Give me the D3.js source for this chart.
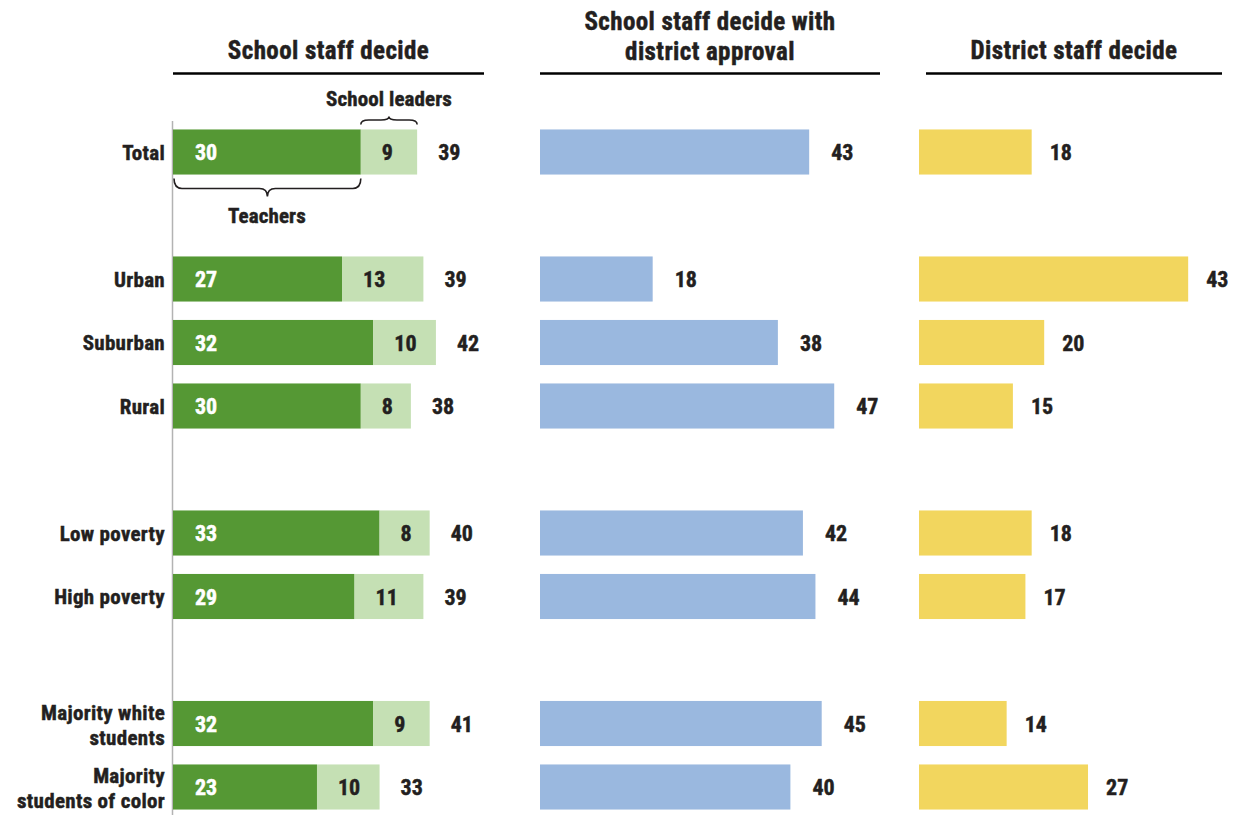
<!DOCTYPE html>
<html>
<head>
<meta charset="utf-8">
<script src="https://cdn.jsdelivr.net/npm/d3@7"></script>
<style>
  body { margin: 0; background: #fff; }
  svg text { font-family: "Liberation Sans Narrow", "Roboto Condensed", "DejaVu Sans Condensed", "Arial Narrow", sans-serif; font-weight: bold; fill: #231f20; stroke: #231f20; stroke-width: 0.45px; }
</style>
</head>
<body>
<div id="chart"></div>
<script>
// data
var categories = ["Total", "Urban", "Suburban", "Rural", "Low poverty", "High poverty", "Majority white students", "Majority students of color"];
var teachers = [30, 27, 32, 30, 33, 29, 32, 23];
var leaders = [9, 13, 10, 8, 8, 11, 9, 10];
var schoolTotals = [39, 39, 42, 38, 40, 39, 41, 33];
var withApproval = [43, 18, 38, 47, 42, 44, 45, 40];
var districtDecide = [18, 43, 20, 15, 18, 17, 14, 27];
var panelTitles = [["School staff decide"], ["School staff decide with", "district approval"], ["District staff decide"]];

var config = {
    width: 1234, height: 815,
    panelX: [173, 540, 919],
    titleLine: [[173, 484], [540, 880], [926, 1222]],
    dark: "#559834", light: "#c5e0b4", blue: "#9ab8df", yellow: "#f2d65e",
    pad: 21
};

// row order with blank spacer rows between groups
var rowKeys = ["Total", "_a", "Urban", "Suburban", "Rural", "_b", "Low poverty", "High poverty", "_c",
               "Majority white students", "Majority students of color"];
var labelLines = {
    "Majority white students": ["Majority white", "students"],
    "Majority students of color": ["Majority", "students of color"]
};

var y = d3.scaleBand().domain(rowKeys).range([120.25, 818.75]).paddingInner(0.29).paddingOuter(0.145);
var x = d3.scaleLinear().domain([0, 50]).range([0, 313]);

var rows = categories.map(function(c, i) {
    return {cat: c, t: teachers[i], l: leaders[i], tot: schoolTotals[i], a: withApproval[i], d: districtDecide[i]};
});

var svg = d3.select("#chart").append("svg")
    .attr("width", config.width)
    .attr("height", config.height);

// panel titles + rules
panelTitles.forEach(function(lines, p) {
    var ext = config.titleLine[p];
    var cx = (ext[0] + ext[1]) / 2;
    var t = svg.append("text")
        .attr("x", cx)
        .attr("text-anchor", "middle")
        .style("font-size", "25px")
        .style("letter-spacing", "0.4px");
    lines.forEach(function(s, i) {
        t.append("tspan").attr("x", cx)
            .attr("y", lines.length == 1 ? 59 : 30 + i * 30)
            .text(s);
    });
    svg.append("line")
        .attr("x1", ext[0]).attr("x2", ext[1])
        .attr("y1", 73.5).attr("y2", 73.5)
        .attr("stroke", "#000").attr("stroke-width", 2.5);
});

// axis line on first panel
svg.append("line")
    .attr("x1", config.panelX[0] - 0.5).attr("x2", config.panelX[0] - 0.5)
    .attr("y1", 121).attr("y2", 815)
    .attr("stroke", "#b3b3b3").attr("stroke-width", 1.5);

// category labels
var lab = svg.selectAll(".cat").data(rows).enter().append("text")
    .attr("class", "cat")
    .attr("text-anchor", "end")
    .style("font-size", "21px")
    .style("letter-spacing", "0.3px");
lab.each(function(d) {
    var cy = y(d.cat) + y.bandwidth() / 2;
    var lines = labelLines[d.cat] || [d.cat];
    var el = d3.select(this);
    lines.forEach(function(s, i) {
        el.append("tspan").attr("x", 165)
            .attr("y", lines.length == 1 ? cy + 7.5 : cy - 4 + i * 25)
            .text(s);
    });
});

function valueText(cls, xf, txt, fill) {
    svg.selectAll("." + cls).data(rows).enter().append("text")
        .attr("class", cls)
        .attr("x", xf)
        .attr("y", function(d) { return y(d.cat) + y.bandwidth() / 2 + 8; })
        .style("font-size", "22px")
        .style("fill", fill || "#231f20")
        .style("stroke", fill || "#231f20")
        .text(txt);
}

// panel 1: stacked teachers + leaders
var x0 = config.panelX[0];
svg.selectAll(".teach").data(rows).enter().append("rect")
    .attr("class", "teach")
    .attr("x", x0)
    .attr("y", function(d) { return y(d.cat); })
    .attr("width", function(d) { return x(d.t); })
    .attr("height", y.bandwidth())
    .attr("fill", config.dark);
svg.selectAll(".lead").data(rows).enter().append("rect")
    .attr("class", "lead")
    .attr("x", function(d) { return x0 + x(d.t); })
    .attr("y", function(d) { return y(d.cat); })
    .attr("width", function(d) { return x(d.l); })
    .attr("height", y.bandwidth())
    .attr("fill", config.light);
valueText("tv", function(d) { return x0 + config.pad + 1; }, function(d) { return d.t; }, "#fff");
valueText("lv", function(d) { return x0 + x(d.t) + config.pad; }, function(d) { return d.l; });
valueText("sv", function(d) { return x0 + x(d.t + d.l) + config.pad; }, function(d) { return d.tot; });

// panel 2 and 3: single bars
[["a", config.blue, 1, 22], ["d", config.yellow, 2, 18]].forEach(function(s) {
    var key = s[0], px = config.panelX[s[2]], off = s[3];
    svg.selectAll(".bar-" + key).data(rows).enter().append("rect")
        .attr("class", "bar-" + key)
        .attr("x", px)
        .attr("y", function(d) { return y(d.cat); })
        .attr("width", function(d) { return x(d[key]); })
        .attr("height", y.bandwidth())
        .attr("fill", s[1]);
    valueText("val-" + key, function(d) { return px + x(d[key]) + off; }, function(d) { return d[key]; });
});

// curly brace path; dir -1 = tip up, 1 = tip down
function bracePath(xa, xb, yb, h, dir) {
    var m = (xa + xb) / 2, r = Math.min(8, (xb - xa) / 6);
    var y1 = yb + dir * h * 0.55, y2 = yb + dir * h;
    return ["M", xa, yb,
            "Q", xa, y1, xa + r, y1,
            "L", m - r, y1,
            "Q", m, y1, m, y2,
            "Q", m, y1, m + r, y1,
            "L", xb - r, y1,
            "Q", xb, y1, xb, yb].join(" ");
}

var tot = rows[0];
var topY = y(tot.cat), botY = y(tot.cat) + y.bandwidth();
svg.append("path")
    .attr("d", bracePath(x0 + x(tot.t), x0 + x(tot.t + tot.l), topY - 5, 8, -1))
    .attr("fill", "none").attr("stroke", "#231f20").attr("stroke-width", 1.6);
svg.append("text")
    .attr("x", x0 + x(tot.t) + x(tot.l) / 2)
    .attr("y", 106)
    .attr("text-anchor", "middle")
    .style("font-size", "21px")
    .style("letter-spacing", "0.1px")
    .text("School leaders");
svg.append("path")
    .attr("d", bracePath(x0 + 1, x0 + x(tot.t), botY + 4, 18, 1))
    .attr("fill", "none").attr("stroke", "#231f20").attr("stroke-width", 1.6);
svg.append("text")
    .attr("x", x0 + x(tot.t) / 2)
    .attr("y", 223)
    .attr("text-anchor", "middle")
    .style("font-size", "21px")
    .style("letter-spacing", "0.1px")
    .text("Teachers");
</script>
</body>
</html>
